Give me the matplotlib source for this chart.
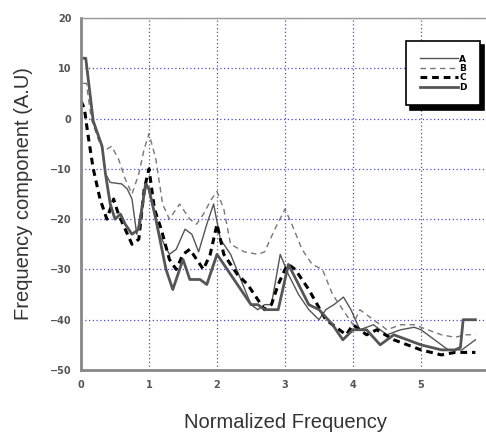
import matplotlib
matplotlib.use("Agg")
import matplotlib.pyplot as plt

# normalized frequency / frequency component values
xa = [0.0, 0.07, 0.18, 0.31, 0.36, 0.43, 0.6, 0.68, 0.75, 0.82, 0.9, 0.97, 1.05, 1.15, 1.3, 1.4, 1.53, 1.63, 1.73, 1.85, 1.95,
      2.05, 2.2, 2.35, 2.5, 2.6, 2.7, 2.8, 2.93, 3.05, 3.2, 3.35, 3.5, 3.6, 3.72, 3.86, 3.97, 4.1, 4.3, 4.5, 4.7, 4.9, 5.0,
      5.2, 5.4, 5.6, 5.7, 5.8]
ya = [12, 12, -0.5, -5.5, -11, -12.7, -13, -14, -16, -23, -17, -13, -17, -23, -27, -26, -22, -23, -26.5, -21, -17,
      -24, -27, -32, -37, -38, -37, -37, -27, -31, -35, -38, -40, -38, -37, -35.5, -38, -42, -41, -43, -42, -41.5, -42,
      -44, -46, -46, -45, -44]

xb = [0.03, 0.08, 0.15, 0.25, 0.33, 0.45, 0.55, 0.65, 0.75, 0.85, 0.93, 1.0, 1.1, 1.2, 1.3, 1.45, 1.6, 1.7, 1.8, 1.92,
      2.0, 2.1, 2.2, 2.4, 2.6, 2.7, 2.85, 3.0, 3.1, 3.25, 3.4, 3.55, 3.7, 3.85, 4.0, 4.1, 4.3, 4.5, 4.7, 4.9, 5.1, 5.3,
      5.5, 5.65, 5.8]
yb = [7, 7, 0, -4, -6.5, -5.5, -8, -12, -15, -11, -6, -3, -8, -17, -20, -17, -20, -21, -19, -16,
      -14.5, -18, -25, -26.5, -27, -26.5, -22, -18, -21, -26, -29, -30, -35, -38, -41, -38, -40, -42, -41, -41, -42, -43,
      -43.5, -43, -43]

xc = [0.0, 0.05, 0.1, 0.18, 0.28, 0.38, 0.48, 0.55, 0.65, 0.75, 0.85, 0.93, 1.0, 1.08, 1.18, 1.3, 1.4, 1.5, 1.6,
      1.7, 1.8, 1.9, 2.0, 2.1, 2.3, 2.45, 2.6, 2.7, 2.8, 2.9, 3.0, 3.05, 3.15, 3.35, 3.6, 3.8, 3.9, 4.0, 4.2, 4.35,
      4.6, 4.8, 5.0, 5.3, 5.5, 5.8]
yc = [3.5, 2, -3, -10, -16, -20, -16, -19, -22, -25, -24, -14, -10, -18, -22, -28, -30, -27, -26,
      -28, -30, -27, -21, -27, -31, -33, -36, -38, -37, -33, -30, -29, -30, -34, -40, -42, -43, -41, -43, -42,
      -44, -45, -46, -47, -46.5, -46.5]

xd = [0.0, 0.07, 0.18, 0.31, 0.36, 0.43, 0.5, 0.58, 0.65, 0.75, 0.85, 0.95, 1.0, 1.1, 1.25, 1.35, 1.5, 1.6, 1.75, 1.85,
      2.0, 2.15, 2.35, 2.5, 2.6, 2.7, 2.8, 2.9, 3.05, 3.2, 3.35, 3.5, 3.7, 3.85, 4.0, 4.2, 4.4, 4.6, 4.8, 5.0, 5.3,
      5.5, 5.58, 5.62, 5.7, 5.8]
yd = [12, 12, -0.5, -5.5, -11, -17, -20, -19, -21, -23, -22, -13, -14, -20, -30, -34, -28, -32, -32, -33,
      -27, -30, -34, -37, -37, -38, -38, -38, -29, -33, -37, -38, -41, -44, -42, -42, -45, -43, -44, -45, -46,
      -46, -45.5, -40, -40, -40]

series_names = ["A", "B", "C", "D"]

fig = plt.figure(figsize=(4.86, 4.36), dpi=100)
ax = fig.add_axes([81 / 486, 1 - 370 / 436, 408 / 486, 352 / 436])

ax.plot(xa, ya, color="#555555", lw=1.0, ls="-", label=series_names[0])
ax.plot(xb, yb, color="#777777", lw=1.0, ls=(0, (4, 3)), label=series_names[1])
ax.plot(xc, yc, color="black", lw=2.2, ls=(0, (2.2, 1.6)), label=series_names[2])
ax.plot(xd, yd, color="#555555", lw=2.0, ls="-", label=series_names[3])

ax.set_xlim(0, 6)
ax.set_ylim(-50, 20)
ax.set_xticks(range(0, 7))
ax.set_yticks(range(-50, 21, 10))
ax.grid(True, color="#4a4ae0", ls=(0, (1, 2)), lw=0.9)
ax.set_axisbelow(True)

for s in ["left", "bottom"]:
    ax.spines[s].set_color("#888888")
    ax.spines[s].set_linewidth(2.0)
ax.spines["top"].set_color("#999999")
ax.spines["top"].set_linewidth(1.0)
ax.spines["right"].set_visible(False)

narrow = ["DejaVu Sans Condensed", "Liberation Sans Narrow", "DejaVu Sans"]
ax.tick_params(length=0, pad=7, colors="#555555")
for lab in ax.get_xticklabels() + ax.get_yticklabels():
    lab.set_fontfamily(narrow)
    lab.set_fontsize(7)
    lab.set_fontweight("bold")

ax.set_xlabel("Normalized Frequency", family="Liberation Sans", size=14.5, color="#333333", labelpad=17)
ax.set_ylabel("Frequency component (A.U)", family="Liberation Sans", size=14.5, color="#333333", labelpad=12)

leg = ax.legend(loc="upper left", bbox_to_anchor=((406 - 81) / 408, (370 - 41) / 352), fancybox=False,
                shadow={"color": "black", "alpha": 1.0, "ox": 3, "oy": -3}, edgecolor="black", framealpha=1,
                handlelength=4.3, labelspacing=0.05, handletextpad=0.1, borderpad=1.5, borderaxespad=0,
                prop=dict(family=narrow, size=6.5, weight="bold"))
leg.get_frame().set_linewidth(1.2)

fig.savefig("out.png", dpi=100)
